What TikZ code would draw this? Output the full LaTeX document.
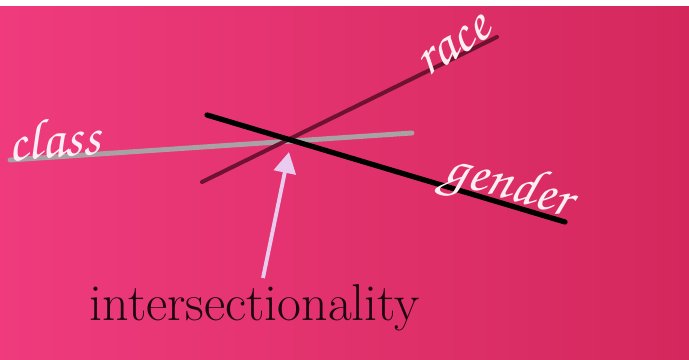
\documentclass[tikz,border=0pt]{standalone}
\usetikzlibrary{arrows.meta}
\definecolor{bgleft}{HTML}{EF3B7D}
\definecolor{bgright}{HTML}{D4285D}
\definecolor{racecol}{HTML}{6E1232}
\definecolor{classcol}{HTML}{A9A2A4}
\definecolor{arrowcol}{HTML}{E8CBEF}
\definecolor{labelcol}{HTML}{FDEEF4}
\definecolor{textcol}{HTML}{1C0410}
\newcommand{\chancery}{\fontencoding{T1}\fontfamily{pzc}\fontseries{m}\fontshape{it}\selectfont}
\begin{document}
\begin{tikzpicture}[
        axisline/.style={line width=2.8pt, line cap=round},
        tag/.style={text=labelcol, font=\chancery\fontsize{32}{34}\selectfont, inner sep=0pt}
    ]
        % Background
        \useasboundingbox (0,0) rectangle (13.78,7.2);
        \shade[left color=bgleft, right color=bgright] (0,0) rectangle (13.78,7.08);
        \fill[white] (0,7.08) rectangle (13.78,7.2);

        % End points of the three lines
        \coordinate (class-a) at (0.2,4.0);
        \coordinate (class-b) at (8.24,4.54);
        \coordinate (race-a) at (4.04,3.56);
        \coordinate (race-b) at (9.94,6.46);
        \coordinate (gender-a) at (4.14,4.9);
        \coordinate (gender-b) at (11.3,2.76);

        % Lines
        \draw[axisline, classcol] (class-a) -- (class-b);
        \draw[axisline, racecol, line width=2.3pt] (race-a) -- (race-b);
        \draw[axisline, black, line width=3pt] (gender-a) -- (gender-b);

        % Labels on the lines
        \node[tag, rotate=5] (class) at (1.08,4.44) {class};
        \node[tag, rotate=33] (race) at (9.08,6.28) {race};
        \node[tag, rotate=-16] (gender) at (10.16,3.44) {gender};

        % Arrow to the crossing
        \node[text=textcol, font=\fontsize{29.5}{32}\selectfont, anchor=base] (inter) at (5.1,0.78) {intersectionality};
        \coordinate (tail) at (5.26,1.64);
        \coordinate (meet) at (5.78,4.16);
        \draw[-{Triangle[length=0.42cm,width=0.44cm]}, arrowcol, line width=2.2pt] (tail) -- (meet);
    \end{tikzpicture}
\end{document}
